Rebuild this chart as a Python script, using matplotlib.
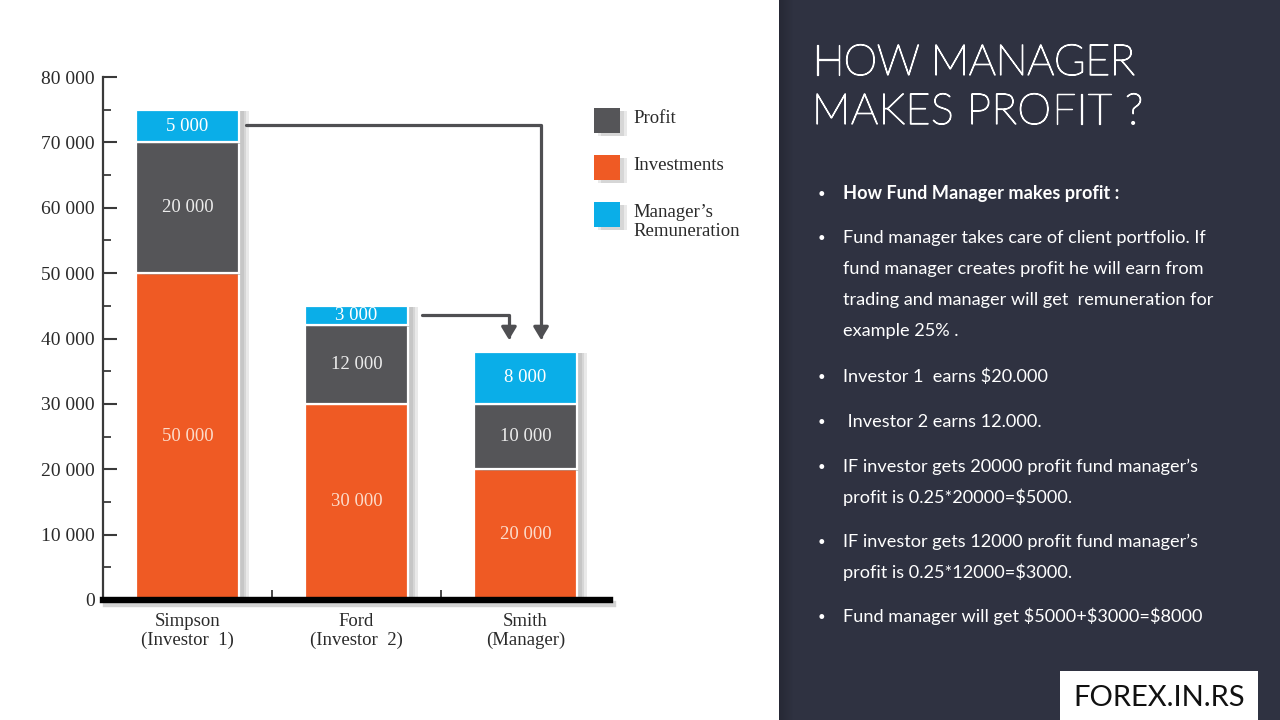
import matplotlib
matplotlib.use('Agg')
import matplotlib.pyplot as plt
from matplotlib.patches import Rectangle
import matplotlib.patheffects as pe
import numpy as np

# ---------------- data ----------------
categories = ['Simpson\n(Investor  1)', 'Ford\n(Investor  2)', 'Smith\n(Manager)']
investments = [50000, 30000, 20000]
profit = [20000, 12000, 10000]
remuneration = [5000, 3000, 8000]
legend_names = ['Profit', 'Investments', 'Manager’s\nRemuneration']
yticks = [0, 10000, 20000, 30000, 40000, 50000, 60000, 70000, 80000]
ytick_labels = ['0', '10 000', '20 000', '30 000', '40 000', '50 000', '60 000', '70 000', '80 000']
yminor = [5000, 15000, 25000, 35000, 45000, 55000, 65000, 75000]
title_lines = ['HOW MANAGER', 'MAKES PROFIT ?']
bullet_items = [
    ['How Fund Manager makes profit :'],
    ['Fund manager takes care of client portfolio. If',
     'fund manager creates profit he will earn from',
     'trading and manager will get  remuneration for',
     'example 25% .'],
    ['Investor 1  earns $20.000'],
    [' Investor 2 earns 12.000.'],
    ['IF investor gets 20000 profit fund manager’s',
     'profit is 0.25*20000=$5000.'],
    ['IF investor gets 12000 profit fund manager’s',
     'profit is 0.25*12000=$3000.'],
    ['Fund manager will get $5000+$3000=$8000'],
]
logo_text = 'FOREX.IN.RS'

# ---------------- style ----------------
C_INV = '#ef5a24'
C_PROF = '#555558'
C_REM = '#0aaee8'
C_PANEL = '#2f3241'
SERIF = 'Liberation Serif'
SANS = 'Lato'

W, H = 1280, 720
fig = plt.figure(figsize=(12.8, 7.2), dpi=100)
fig.patch.set_facecolor('white')


def fx(px):
    return px / W


def fy(py):
    return 1 - py / H


ax = fig.add_axes([fx(103), 120 / H, 507 / W, 523 / H])
ax.set_xlim(-0.5, 2.5)
ax.set_ylim(0, 80000)

x = np.arange(len(categories))
bw = 0.615
shadow = [pe.SimplePatchShadow(offset=(o, -1), shadow_rgbFace='#777777', alpha=0.16) for o in (7, 5, 3)] + [pe.Normal()]

inv = np.array(investments)
prof = np.array(profit)
rem = np.array(remuneration)

b1 = ax.bar(x, inv, bw, color=C_INV, edgecolor='white', linewidth=1.6, path_effects=shadow, zorder=2)
b2 = ax.bar(x, prof, bw, bottom=inv, color=C_PROF, edgecolor='white', linewidth=1.6, path_effects=shadow, zorder=2)
b3 = ax.bar(x, rem, bw, bottom=inv + prof, color=C_REM, edgecolor='white', linewidth=1.6, path_effects=shadow, zorder=2)


def fmt(v):
    return f'{v:,}'.replace(',', ' ')


for bars, vals, bottoms, tc in [(b1, inv, np.zeros(3), '#fcdccb'),
                                (b2, prof, inv, '#ececec'),
                                (b3, rem, inv + prof, '#ffffff')]:
    for xi, v, b in zip(x, vals, bottoms):
        ax.text(xi, b + v / 2, fmt(v), ha='center', va='center', fontsize=13.5,
                family=SERIF, color=tc, zorder=4)

# axes styling
for s in ['top', 'right', 'bottom']:
    ax.spines[s].set_visible(False)
ax.spines['left'].set_linewidth(1.6)
ax.spines['left'].set_color('#3a3a3a')
ax.axhline(0, color='black', lw=4.6, clip_on=False, zorder=5,
           path_effects=[pe.SimpleLineShadow(offset=(2, -3), alpha=0.25, shadow_color='#555555'), pe.Normal()])

ax.set_yticks(yticks)
ax.set_yticklabels(ytick_labels, family=SERIF, fontsize=14, color='#2a2a2a')
ax.set_yticks(yminor, minor=True)
ax.tick_params(axis='y', which='major', direction='in', length=10, width=1.5, color='#3a3a3a', pad=6)
ax.tick_params(axis='y', which='minor', direction='in', length=5.5, width=1.3, color='#3a3a3a')

ax.set_xticks(x)
ax.set_xticklabels(categories, family=SERIF, fontsize=13.5, color='#2a2a2a', linespacing=1.15)
ax.set_xticks([0.5, 1.5], minor=True)
ax.tick_params(axis='x', which='major', length=0, pad=9)
ax.tick_params(axis='x', which='minor', direction='in', length=7, width=1.3, color='#3a3a3a')

# arrows
arrow_kw = dict(arrowstyle='-|>,head_length=0.75,head_width=0.45', color='#4f4f52', lw=2.3,
                shrinkA=0, shrinkB=0, connectionstyle='angle,angleA=0,angleB=90,rad=0')
ax.annotate('', xy=(2.092, 39800), xytext=(0.345, 72600),
            arrowprops=arrow_kw, zorder=3)
ax.annotate('', xy=(1.902, 39800), xytext=(1.385, 43600),
            arrowprops=arrow_kw, zorder=3)

# legend (manual)
leg_colors = [C_PROF, C_INV, C_REM]
for i, (name, col) in enumerate(zip(legend_names, leg_colors)):
    top = 108 + i * 47
    fig.add_artist(Rectangle((fx(594), fy(top + 25)), 26 / W, 25 / H, transform=fig.transFigure,
                             facecolor=col, edgecolor='none',
                             path_effects=[pe.SimplePatchShadow(offset=(o, -2), shadow_rgbFace='#777777', alpha=0.16)
                                           for o in (5, 3)] + [pe.Normal()]))
    fig.text(fx(633), fy(top + 2), name, family=SERIF, fontsize=13.5, color='#2a2a2a',
             va='top', ha='left', linespacing=1.15)

# ---------------- right panel ----------------
fig.add_artist(Rectangle((fx(779), 0), (W - 779) / W, 1, transform=fig.transFigure,
                         facecolor=C_PANEL, edgecolor='none', zorder=0))
for k in range(14):
    fig.add_artist(Rectangle((fx(779 + k), 0), 1 / W, 1, transform=fig.transFigure,
                             facecolor='black', alpha=0.18 * (1 - k / 14), edgecolor='none', zorder=0.5))

renderer = fig.canvas.get_renderer()


def text_width(s, size, **kw):
    t = fig.text(0, 0, s, fontsize=size, **kw)
    w = t.get_window_extent(renderer).width
    t.remove()
    return w


def spaced(x_px, y_px, s, size, target_w, effects=None, **kw):
    ref = text_width('HH', size, **kw)
    widths = [text_width('H' + ch + 'H', size, **kw) - ref for ch in s]
    natural = sum(widths)
    sp = (target_w - natural) / (len(s) - 1)
    xp = x_px
    for ch, w in zip(s, widths):
        if ch != ' ':
            fig.text(fx(xp), fy(y_px), ch, fontsize=size, va='baseline', ha='left',
                     path_effects=effects, **kw)
        xp += w + sp


title_kw = dict(family=SANS, weight='light', color='white')
title_fx = [pe.withStroke(linewidth=0.9, foreground='white')]
spaced(812, 75, title_lines[0], 31, 323, effects=title_fx, **title_kw)
spaced(812, 124, title_lines[1], 31, 331, effects=title_fx, **title_kw)

baselines = [[199], [243, 274, 305, 336], [382], [427], [472, 503], [547, 578], [622]]
for item, bls in zip(bullet_items, baselines):
    fig.text(fx(818), fy(bls[0] - 1), '•', family=SANS, fontsize=9.5, color='white', va='baseline')
    for j, (line, bl) in enumerate(zip(item, bls)):
        fig.text(fx(843), fy(bl), line, family=SANS, fontsize=13.1,
                 weight='bold' if item is bullet_items[0] else 'normal',
                 color='white', va='baseline', ha='left')

# logo box
fig.add_artist(Rectangle((fx(1060), 0), 198 / W, 49 / H, transform=fig.transFigure,
                         facecolor='white', edgecolor='none', zorder=1))
fig.text(fx(1159), fy(706), logo_text, family=SANS, fontsize=21, color='#111111',
         ha='center', va='baseline', zorder=2)

fig.savefig('out.png', dpi=100, facecolor='white')
